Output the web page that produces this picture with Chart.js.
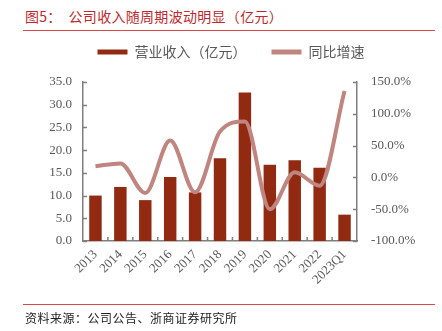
<!DOCTYPE html>
<html>
<head>
<meta charset="utf-8">
<script src="https://cdn.jsdelivr.net/npm/chart.js@4"></script>
<style>
  html, body { margin: 0; padding: 0; background: #fff; }
  #wrap { position: relative; width: 442px; height: 331px; overflow: hidden; }
  #myChart { position: absolute; left: 0; top: 0; }
  .title { position: absolute; left: 25px; top: 6px; font: 14px "Noto Sans CJK SC"; color: #c0282d; white-space: pre; letter-spacing: 0.3px; }
  .rule { position: absolute; left: 23px; width: 412px; height: 1px; background: #d9484c; }
  .source { position: absolute; left: 25px; top: 309px; font: 12px "Noto Sans CJK SC"; color: #222; letter-spacing: 0.5px; }
</style>
</head>
<body>
<div id="wrap">
  <div class="title">图5：  公司收入随周期波动明显（亿元）</div>
  <div class="rule" style="top:30px"></div>
  <canvas id="myChart" width="442" height="331"></canvas>
  <div class="rule" style="top:304px"></div>
  <div class="source">资料来源：公司公告、浙商证券研究所</div>
</div>
<script>
const categories = ['2013', '2014', '2015', '2016', '2017', '2018', '2019', '2020', '2021', '2022', '2023Q1'];
const revenue = [10.0, 11.9, 9.0, 14.1, 10.7, 18.2, 32.7, 16.8, 17.8, 16.1, 5.8];
const growth = [17.6, 22.0, -24.5, 58.0, -23.5, 72.0, 88.0, -50.0, 8.0, -13.0, 136.0];
const leftTicks = [0, 5, 10, 15, 20, 25, 30, 35];
const rightTicks = [-100, -50, 0, 50, 100, 150];

const barColor = '#922a12';
const lineColor = '#c1857f';
const axisColor = '#7f7f7f';
const labelColor = '#595959';

// inward tick marks on all three axes
const innerTicks = {
    id: 'innerTicks',
    afterDraw(chart) {
        const { ctx, chartArea, scales } = chart;
        ctx.save();
        ctx.strokeStyle = axisColor;
        ctx.lineWidth = 1.5;
        ctx.beginPath();
        scales.y.ticks.forEach(t => {
            const py = Math.round(scales.y.getPixelForValue(t.value)) + 0.5;
            ctx.moveTo(chartArea.left, py);
            ctx.lineTo(chartArea.left + 4, py);
        });
        scales.y1.ticks.forEach(t => {
            const py = Math.round(scales.y1.getPixelForValue(t.value)) + 0.5;
            ctx.moveTo(chartArea.right, py);
            ctx.lineTo(chartArea.right - 4, py);
        });
        for (let i = 1; i < categories.length; i++) {
            const px = (scales.x.getPixelForValue(i - 1) + scales.x.getPixelForValue(i)) / 2;
            ctx.moveTo(px, chartArea.bottom);
            ctx.lineTo(px, chartArea.bottom - 4);
        }
        ctx.stroke();
        ctx.restore();
    }
};

// extra room between the legend and the plot
const legendGap = {
    id: 'legendGap',
    beforeLayout(chart) {
        const lg = chart.legend;
        if (lg && !lg._gapPatched) {
            const fit = lg.fit.bind(lg);
            lg.fit = function () {
                fit();
                this.height += 13;
            };
            lg._gapPatched = true;
        }
    }
};

const ctx = document.getElementById('myChart').getContext('2d');

const myChart = new Chart(ctx, {
    data: {
        labels: categories,
        datasets: [
            {
                type: 'line',
                label: '同比增速',
                data: growth,
                yAxisID: 'y1',
                borderColor: lineColor,
                backgroundColor: lineColor,
                borderWidth: 4,
                pointRadius: 0,
                cubicInterpolationMode: 'monotone',
                order: 0,
            },
            {
                type: 'bar',
                label: '营业收入（亿元）',
                data: revenue,
                yAxisID: 'y',
                backgroundColor: barColor,
                barPercentage: 0.5,
                categoryPercentage: 1.0,
                order: 1,
            },
        ],
    },
    options: {
        responsive: false,
        animation: false,
        devicePixelRatio: 1,
        layout: { padding: { top: 20, left: 20, right: 0, bottom: 0 } },
        plugins: {
            tooltip: { enabled: false },
            legend: {
                position: 'top',
                reverse: true,
                labels: {
                    boxWidth: 30,
                    boxHeight: 5,
                    padding: 25,
                    color: labelColor,
                    font: { family: 'Noto Sans CJK SC', size: 14 },
                    generateLabels(chart) {
                        return chart.data.datasets.map((ds, i) => ({
                            text: ds.label,
                            fillStyle: ds.type === 'line' ? lineColor : barColor,
                            strokeStyle: 'rgba(0,0,0,0)',
                            lineWidth: 0,
                            fontColor: labelColor,
                            datasetIndex: i,
                        }));
                    },
                },
            },
        },
        scales: {
            x: {
                offset: true,
                grid: { display: false, drawTicks: false },
                border: { color: axisColor, width: 1.5 },
                ticks: {
                    color: labelColor,
                    autoSkip: false,
                    maxRotation: 45,
                    minRotation: 45,
                    padding: 6,
                    font: { family: 'Liberation Serif', size: 13 },
                },
                afterFit(scale) { scale.height = 90; },
            },
            y: {
                position: 'left',
                min: 0,
                max: 35,
                afterBuildTicks(scale) { scale.ticks = leftTicks.map(v => ({ value: v })); },
                grid: { display: false, drawTicks: false },
                border: { color: axisColor, width: 1.5 },
                ticks: {
                    color: labelColor,
                    padding: 11,
                    font: { family: 'Liberation Serif', size: 13 },
                    callback: v => v.toFixed(1),
                },
                afterFit(scale) { scale.width = 63; },
            },
            y1: {
                position: 'right',
                min: -100,
                max: 150,
                afterBuildTicks(scale) { scale.ticks = rightTicks.map(v => ({ value: v })); },
                grid: { display: false, drawTicks: false },
                border: { color: axisColor, width: 1.5 },
                ticks: {
                    color: labelColor,
                    padding: 14,
                    font: { family: 'Liberation Serif', size: 13 },
                    callback: v => v.toFixed(1) + '%',
                },
                afterFit(scale) { scale.width = 85; },
            },
        },
    },
    plugins: [innerTicks, legendGap],
});
</script>
</body>
</html>
